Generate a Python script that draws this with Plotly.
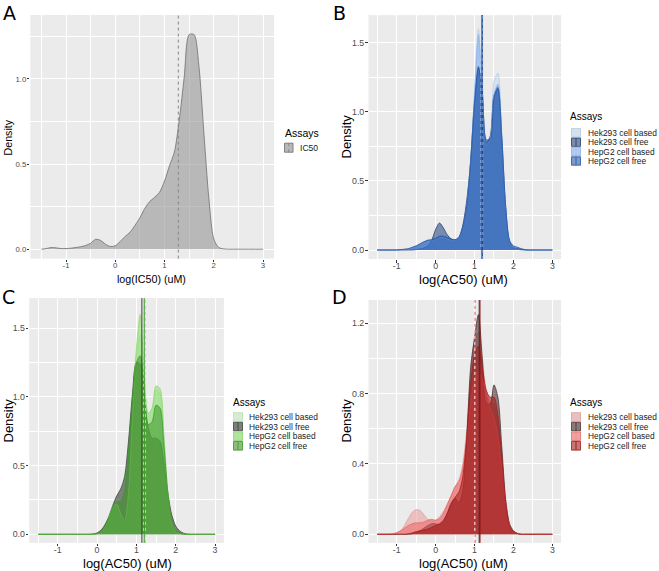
import plotly.graph_objects as go

W, H = 659, 571

# ---------------- data ----------------
x_grid = [-1.5, -1.4, -1.3, -1.2, -1.1, -1.0, -0.9, -0.8, -0.7, -0.6,
          -0.5, -0.4, -0.3, -0.2, -0.1, 0.0, 0.1, 0.2, 0.3, 0.4,
          0.5, 0.6, 0.7, 0.8, 0.9, 1.0, 1.1, 1.2, 1.3, 1.4,
          1.5, 1.6, 1.7, 1.8, 1.9, 2.0, 2.1, 2.2, 2.3, 2.4,
          2.5, 2.6, 2.7, 2.8, 2.9, 3.0]

assays = ["Hek293 cell based", "Hek293 cell free", "HepG2 cell based", "HepG2 cell free"]

# Panel A: IC50
a_ic50 = [0.000, 0.004, 0.010, 0.008, 0.004, 0.004, 0.006, 0.010, 0.015, 0.022,
          0.035, 0.058, 0.052, 0.030, 0.016, 0.020, 0.045, 0.075, 0.100, 0.140,
          0.185, 0.240, 0.280, 0.305, 0.335, 0.400, 0.490, 0.570, 0.760, 1.010,
          1.260, 1.260, 1.070, 0.680, 0.300, 0.060, 0.010, 0.002, 0.0, 0.0,
          0.0, 0.0, 0.0, 0.0, 0.0, 0.0]
a_mean = 1.28

# Panel B: blue
b_hek_based = [0, 0, 0, 0, 0, 0, 0, 0.005, 0.010, 0.020,
               0.030, 0.045, 0.060, 0.075, 0.080, 0.085, 0.090, 0.085, 0.075, 0.070,
               0.070, 0.090, 0.150, 0.300, 0.640, 1.150, 1.600, 1.200, 0.780, 0.820,
               1.220, 1.280, 0.850, 0.320, 0.070, 0.020, 0.010, 0, 0, 0,
               0, 0, 0, 0, 0, 0]
b_hek_free = [0, 0, 0, 0, 0, 0, 0, 0, 0, 0,
              0.003, 0.008, 0.015, 0.030, 0.070, 0.150, 0.195, 0.160, 0.110, 0.080,
              0.070, 0.090, 0.180, 0.360, 0.640, 1.080, 1.330, 1.120, 0.780, 0.820,
              1.120, 1.180, 0.800, 0.300, 0.060, 0.015, 0.010, 0.005, 0, 0,
              0, 0, 0, 0, 0, 0]
b_hep_based = [0, 0, 0, 0, 0, 0, 0, 0, 0.005, 0.010,
               0.020, 0.035, 0.055, 0.070, 0.070, 0.075, 0.090, 0.090, 0.080, 0.070,
               0.070, 0.090, 0.160, 0.320, 0.650, 1.120, 1.560, 1.150, 0.760, 0.800,
               1.120, 1.200, 0.820, 0.300, 0.060, 0.020, 0.005, 0, 0, 0,
               0, 0, 0, 0, 0, 0]
b_hep_free = [0, 0, 0, 0, 0, 0, 0.003, 0.006, 0.010, 0.020,
              0.030, 0.045, 0.060, 0.070, 0.075, 0.085, 0.100, 0.100, 0.090, 0.080,
              0.075, 0.095, 0.170, 0.320, 0.640, 1.060, 1.320, 1.140, 0.800, 0.800,
              1.100, 1.170, 0.820, 0.320, 0.070, 0.030, 0.020, 0.010, 0.003, 0,
              0, 0, 0, 0, 0, 0]
b_means = [1.17, 1.20, 1.21, 1.19]

# Panel C: green
c_hek_based = [0, 0, 0, 0, 0, 0, 0, 0, 0, 0,
               0, 0, 0, 0, 0, 0.005, 0.020, 0.050, 0.100, 0.170,
               0.220, 0.240, 0.300, 0.550, 0.950, 1.300, 1.450, 1.150, 0.880, 0.900,
               1.050, 1.020, 0.700, 0.300, 0.080, 0.020, 0.005, 0, 0, 0,
               0, 0, 0, 0, 0, 0]
c_hek_free = [0, 0, 0, 0, 0, 0, 0, 0, 0, 0,
              0, 0, 0, 0, 0.003, 0.010, 0.030, 0.070, 0.130, 0.210,
              0.280, 0.330, 0.420, 0.680, 1.020, 1.250, 1.240, 1.000, 0.780, 0.700,
              0.700, 0.680, 0.520, 0.300, 0.140, 0.060, 0.025, 0.008, 0.002, 0,
              0, 0, 0, 0, 0, 0]
c_hep_based = [0, 0, 0, 0, 0, 0, 0, 0, 0, 0,
               0, 0, 0, 0, 0, 0.003, 0.015, 0.050, 0.120, 0.200,
               0.220, 0.150, 0.100, 0.300, 0.850, 1.350, 1.600, 1.150, 0.880, 0.920,
               1.080, 1.060, 0.720, 0.300, 0.080, 0.020, 0.005, 0, 0, 0,
               0, 0, 0, 0, 0, 0]
c_hep_free = [0, 0, 0, 0, 0, 0, 0, 0, 0, 0,
              0, 0, 0, 0, 0, 0.005, 0.020, 0.060, 0.120, 0.200,
              0.240, 0.240, 0.320, 0.600, 0.980, 1.250, 1.300, 1.050, 0.800, 0.820,
              0.940, 0.920, 0.650, 0.300, 0.100, 0.030, 0.010, 0, 0, 0,
              0, 0, 0, 0, 0, 0]
c_means = [1.18, 1.14, 1.23, 1.20]

# Panel D: red
d_hek_based = [0, 0, 0, 0, 0, 0.005, 0.020, 0.050, 0.090, 0.125,
               0.140, 0.135, 0.110, 0.085, 0.075, 0.080, 0.100, 0.130, 0.170, 0.220,
               0.270, 0.310, 0.400, 0.600, 0.900, 1.100, 1.150, 1.000, 0.820, 0.760,
               0.740, 0.620, 0.400, 0.160, 0.050, 0.015, 0.005, 0, 0, 0,
               0, 0, 0, 0, 0, 0]
d_hek_free = [0, 0, 0, 0, 0, 0, 0, 0, 0, 0.003,
              0.010, 0.020, 0.035, 0.050, 0.060, 0.060, 0.055, 0.070, 0.120, 0.180,
              0.205, 0.180, 0.250, 0.550, 0.950, 1.120, 1.250, 1.000, 0.750, 0.740,
              0.850, 0.780, 0.500, 0.200, 0.060, 0.020, 0.005, 0, 0, 0,
              0, 0, 0, 0, 0, 0]
d_hep_based = [0, 0, 0, 0, 0.003, 0.010, 0.020, 0.035, 0.050, 0.060,
               0.065, 0.065, 0.070, 0.080, 0.085, 0.080, 0.090, 0.120, 0.170, 0.220,
               0.270, 0.300, 0.380, 0.550, 0.750, 0.880, 0.930, 0.880, 0.800, 0.720,
               0.660, 0.560, 0.380, 0.170, 0.050, 0.015, 0.005, 0, 0, 0,
               0, 0, 0, 0, 0, 0]
d_hep_free = [0, 0, 0, 0, 0, 0, 0, 0, 0.003, 0.008,
              0.015, 0.020, 0.025, 0.030, 0.040, 0.050, 0.060, 0.080, 0.120, 0.170,
              0.210, 0.240, 0.330, 0.550, 0.850, 1.020, 1.070, 0.950, 0.820, 0.780,
              0.780, 0.680, 0.450, 0.180, 0.050, 0.015, 0.005, 0, 0, 0,
              0, 0, 0, 0, 0, 0]
d_means = [1.00, 1.12, 1.02, 1.14]

x_tickvals = [-1, 0, 1, 2, 3]
x_ticktext = ["-1", "0", "1", "2", "3"]
x_titles = {"A": "log(IC50) (uM)", "B": "log(AC50) (uM)", "C": "log(AC50) (uM)", "D": "log(AC50) (uM)"}
y_title = "Density"
legend_title = "Assays"

# ---------------- styles ----------------
FONT = "Liberation Sans, Arial, sans-serif"
GREY92 = "#EBEBEB"

styles = {
    "B": {"fill": ["rgba(189,215,238,0.5)", "rgba(30,60,120,0.55)", "rgba(120,170,240,0.5)", "rgba(33,90,180,0.55)"],
          "line": ["#b4cbe8", "#24406e", "#8fb4ea", "#2456a6"],
          "vline": ["#d8e6f8", "#1d3766", "#9fc0ee", "#2456a6"]},
    "C": {"fill": ["rgba(199,233,192,0.5)", "rgba(30,40,30,0.55)", "rgba(120,220,90,0.5)", "rgba(60,150,40,0.55)"],
          "line": ["#bfe3b5", "#3d4a3a", "#8fd870", "#3e9a2a"],
          "vline": ["#cdeec4", "#38472f", "#a6e890", "#3e9a2a"]},
    "D": {"fill": ["rgba(232,155,155,0.55)", "rgba(60,30,30,0.55)", "rgba(240,90,90,0.5)", "rgba(170,20,20,0.55)"],
          "line": ["#e0a0a0", "#4d3434", "#e86a6a", "#a51c1c"],
          "vline": ["#f0c4c4", "#4a2e2e", "#ee8080", "#8e1010"]},
}
vdash = ["dash", "solid", "dash", "solid"]


def px_x(p):
    return p / W


def px_y(p):
    return 1 - p / H


fig = go.Figure()

dom = {
    "A": dict(x=[px_x(30.3), px_x(274.1)], y=[px_y(258.6), px_y(15.0)], yr=[-0.055, 1.375], ydt=0.5),
    "B": dict(x=[px_x(368.5), px_x(561.1)], y=[px_y(259.0), px_y(15.1)], yr=[-0.065, 1.70], ydt=0.5),
    "C": dict(x=[px_x(29.2), px_x(223.9)], y=[px_y(542.9), px_y(298.1)], yr=[-0.0625, 1.72], ydt=0.5),
    "D": dict(x=[px_x(368.5), px_x(561.1)], y=[px_y(542.9), px_y(300.0)], yr=[-0.049, 1.333], ydt=0.4),
}
axis_ids = {"A": ("x", "y"), "B": ("x2", "y2"), "C": ("x3", "y3"), "D": ("x4", "y4")}

fig.add_trace(go.Scatter(x=x_grid, y=a_ic50, mode="lines", line=dict(color="#6e6e6e", width=0.8, shape="spline", smoothing=0.8),
                         fill="tozeroy", fillcolor="rgba(150,150,150,0.6)", name="IC50", showlegend=False,
                         xaxis="x", yaxis="y"))

panel_series = {
    "B": [b_hek_based, b_hek_free, b_hep_based, b_hep_free],
    "C": [c_hek_based, c_hek_free, c_hep_based, c_hep_free],
    "D": [d_hek_based, d_hek_free, d_hep_based, d_hep_free],
}
panel_means = {"B": b_means, "C": c_means, "D": d_means}

for p in ["B", "C", "D"]:
    xa, ya = axis_ids[p]
    st = styles[p]
    for i, name in enumerate(assays):
        fig.add_trace(go.Scatter(x=x_grid, y=panel_series[p][i], mode="lines",
                                 line=dict(color=st["line"][i], width=0.8, shape="spline", smoothing=0.8),
                                 fill="tozeroy", fillcolor=st["fill"][i], name=name, showlegend=False,
                                 xaxis=xa, yaxis=ya))

shapes = []
shapes.append(dict(type="line", xref="x", yref="y domain", x0=a_mean, x1=a_mean, y0=0, y1=1,
                   line=dict(color="#858585", width=1, dash="3px,3px")))
for p in ["B", "C", "D"]:
    xa, ya = axis_ids[p]
    for i in range(4):
        m = panel_means[p][i]
        shapes.append(dict(type="line", xref=xa, yref=ya + " domain", x0=m, x1=m, y0=0, y1=1,
                           line=dict(color=styles[p]["vline"][i], width=1,
                                     dash="3px,3px" if vdash[i] == "dash" else "solid")))

annotations = []


def legend(title_x, title_y, key_x0, key_w, rows_y, row_h, text_x, names, fills, lines, vlines, dashes, tsize, esize):
    annotations.append(dict(text=legend_title, x=px_x(title_x), y=px_y(title_y), xref="paper", yref="paper",
                            xanchor="left", yanchor="middle", showarrow=False, borderpad=0,
                            font=dict(family=FONT, size=tsize, color="#000000")))
    for i, nm in enumerate(names):
        cy = rows_y[i]
        y0, y1 = px_y(cy + row_h / 2), px_y(cy - row_h / 2)
        shapes.append(dict(type="rect", xref="paper", yref="paper", x0=px_x(key_x0), x1=px_x(key_x0 + key_w),
                           y0=y0, y1=y1, fillcolor=GREY92, line=dict(width=0), layer="above"))
        shapes.append(dict(type="rect", xref="paper", yref="paper", x0=px_x(key_x0 + 0.5), x1=px_x(key_x0 + key_w - 0.5),
                           y0=px_y(cy + row_h / 2 - 0.5), y1=px_y(cy - row_h / 2 + 0.5),
                           fillcolor=fills[i], line=dict(color=lines[i], width=0.8), layer="above"))
        xm = key_x0 + key_w / 2
        shapes.append(dict(type="line", xref="paper", yref="paper", x0=px_x(xm), x1=px_x(xm),
                           y0=px_y(cy + row_h / 2 - 0.5), y1=px_y(cy - row_h / 2 + 0.5),
                           line=dict(color=vlines[i], width=0.8, dash="dot" if dashes[i] == "dash" else "solid"), layer="above"))
        annotations.append(dict(text=nm, x=px_x(text_x), y=px_y(cy), xref="paper", yref="paper",
                                xanchor="left", yanchor="middle", showarrow=False, borderpad=0,
                                font=dict(family=FONT, size=esize, color="#1a1a1a")))


legend(283.5, 133, 284, 9.5, [147.7], 10, 298.5, ["IC50"], ["rgba(150,150,150,0.6)"], ["#6e6e6e"], ["#808080"], ["dash"], 10.5, 8.6)
legend(569, 116.5, 571, 10, [132.7, 142.2, 151.6, 161.0], 9.4, 586.5, assays,
       styles["B"]["fill"], styles["B"]["line"], styles["B"]["vline"], vdash, 10, 8.4)
legend(231.5, 402, 233, 10, [417.0, 426.6, 436.2, 445.8], 9.6, 248, assays,
       styles["C"]["fill"], styles["C"]["line"], styles["C"]["vline"], vdash, 10, 8.4)
legend(569, 402, 571, 10, [417.0, 426.6, 436.2, 445.8], 9.6, 586.5, assays,
       styles["D"]["fill"], styles["D"]["line"], styles["D"]["vline"], vdash, 10, 8.4)

# panel letters
for lbl, lx, ly in [("A", 2, 12.5), ("B", 332, 12.5), ("C", 1, 297), ("D", 331, 297)]:
    annotations.append(dict(text=lbl, x=px_x(lx), y=px_y(ly), xref="paper", yref="paper",
                            xanchor="left", yanchor="middle", showarrow=False, borderpad=0,
                            font=dict(family="DejaVu Sans, sans-serif", size=19, color="#000000")))

# axis titles (placed like ggplot's)
title_sizes = {"A": 10.7, "B": 13.0, "C": 13.0, "D": 13.0}
xt_pos = {"A": (151.7, 278.5), "B": (463, 279), "C": (127, 563), "D": (463, 563)}
yt_pos = {"A": (7.5, 138), "B": (345.5, 137), "C": (7.5, 421), "D": (345.5, 421)}
for p in ["A", "B", "C", "D"]:
    annotations.append(dict(text=x_titles[p], x=px_x(xt_pos[p][0]), y=px_y(xt_pos[p][1]), xref="paper", yref="paper",
                            xanchor="center", yanchor="middle", showarrow=False, borderpad=0,
                            font=dict(family=FONT, size=title_sizes[p], color="#000000")))
    annotations.append(dict(text=y_title, x=px_x(yt_pos[p][0]), y=px_y(yt_pos[p][1]), xref="paper", yref="paper",
                            xanchor="center", yanchor="middle", showarrow=False, borderpad=0, textangle=-90,
                            font=dict(family=FONT, size=title_sizes[p], color="#000000")))

layout = dict(width=W, height=H, margin=dict(l=0, r=0, t=0, b=0), paper_bgcolor="white",
              plot_bgcolor=GREY92, showlegend=False, shapes=shapes, annotations=annotations,
              font=dict(family=FONT))

tick_sizes = {"A": 7.8, "B": 8.8, "C": 8.8, "D": 8.8}
x_standoff = {"A": -3, "B": -4, "C": -4, "D": -4}

for p in ["A", "B", "C", "D"]:
    xa, ya = axis_ids[p]
    xk = "xaxis" + xa[1:]
    yk = "yaxis" + ya[1:]
    d = dom[p]
    layout[xk] = dict(domain=d["x"], anchor=ya, range=[-1.725, 3.225], tickvals=x_tickvals, ticktext=x_ticktext,
                      showgrid=True, gridcolor="white", gridwidth=1, zeroline=False,
                      minor=dict(showgrid=True, gridcolor="white", gridwidth=0.5, dtick=0.5, tick0=0),
                      ticks="outside", ticklen=2.5, tickcolor="#333333", tickwidth=0.8,
                      ticklabelstandoff=x_standoff[p],
                      tickfont=dict(family=FONT, size=tick_sizes[p], color="#4D4D4D"),
                      showline=False, fixedrange=True)
    layout[yk] = dict(domain=d["y"], anchor=xa, range=d["yr"], dtick=d["ydt"], tick0=0, tickformat=".1f",
                      showgrid=True, gridcolor="white", gridwidth=1, zeroline=False,
                      minor=dict(showgrid=True, gridcolor="white", gridwidth=0.5, dtick=d["ydt"] / 2, tick0=0),
                      ticks="outside", ticklen=2.5, tickcolor="#333333", tickwidth=0.8,
                      ticklabelstandoff=-1,
                      tickfont=dict(family=FONT, size=tick_sizes[p], color="#4D4D4D"),
                      showline=False, fixedrange=True)

fig.update_layout(**layout)
fig.write_html("out.html", config={"displayModeBar": False},
               post_script="document.body.style.margin='0';document.body.style.overflow='hidden';")
